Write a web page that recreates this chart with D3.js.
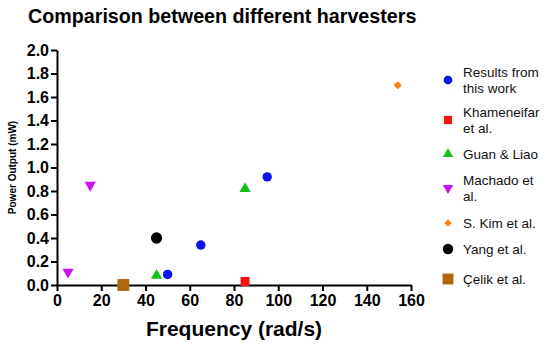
<!DOCTYPE html>
<html>
<head>
<meta charset="utf-8">
<script src="https://cdn.jsdelivr.net/npm/d3@7.9.0/dist/d3.min.js"></script>
<style>
  body { margin: 0; background: #fff; }
  text { font-family: "Liberation Sans", Arial, sans-serif; }
</style>
</head>
<body>
<div id="chart"></div>
<script>
// series
const series = [
  { name: ["Results from", "this work"], shape: "circle", color: "#0a12f0", size: 70,
    points: [[50, 0.09], [65, 0.34], [95, 0.92]] },
  { name: ["Khameneifar", "et al."], shape: "square", color: "#f51212", size: 81,
    points: [[85, 0.03]] },
  { name: ["Guan & Liao"], shape: "triangle", color: "#12c21a", size: 55,
    points: [[45, 0.08], [85, 0.82]] },
  { name: ["Machado et", "al."], shape: "triangleDown", color: "#cc12f0", size: 55,
    points: [[5, 0.11], [15, 0.85]] },
  { name: ["S. Kim et al."], shape: "diamond", color: "#ff7f12", size: 32,
    points: [[154, 1.7]] },
  { name: ["Yang et al."], shape: "circle", color: "#000000", size: 100,
    points: [[45, 0.4]] },
  { name: ["Çelik et al."], shape: "square", color: "#b0650f", size: 140,
    points: [[30, 0.0]] }
];
const xTicks = [0, 20, 40, 60, 80, 100, 120, 140, 160];
const yTicks = [0, 0.2, 0.4, 0.6, 0.8, 1.0, 1.2, 1.4, 1.6, 1.8, 2.0];
const legendY = [80, 120, 154, 188, 223, 249, 279];

const width = 550;
const height = 350;
const margin = { top: 50, right: 139, bottom: 65, left: 57 };

const svg = d3.select("#chart").append("svg")
  .attr("width", width)
  .attr("height", height);

const xScale = d3.scaleLinear().domain([0, 160]).range([margin.left, width - margin.right]);
const yScale = d3.scaleLinear().domain([0, 2]).range([height - margin.bottom, margin.top]);

function symbolFor(shape, size) {
  if (shape === "triangleDown") {
    return d3.symbol().type(d3.symbolTriangle).size(size)();
  }
  const types = {
    circle: d3.symbolCircle,
    square: d3.symbolSquare,
    triangle: d3.symbolTriangle,
    diamond: d3.symbolSquare
  };
  return d3.symbol().type(types[shape]).size(size)();
}

function rotation(shape) {
  if (shape === "triangleDown") return " rotate(180)";
  if (shape === "diamond") return " rotate(45)";
  return "";
}

// title
svg.append("text")
  .attr("x", 28)
  .attr("y", 23)
  .style("font-size", "19.7px")
  .style("font-weight", "bold")
  .text("Comparison between different harvesters");

// axes
const xAxis = svg.append("g")
  .attr("transform", `translate(0, ${yScale(0)})`)
  .call(d3.axisBottom(xScale).tickValues(xTicks).tickSize(6).tickPadding(4).tickSizeOuter(0));

const yAxis = svg.append("g")
  .attr("transform", `translate(${margin.left}, 0)`)
  .call(d3.axisLeft(yScale).tickValues(yTicks).tickFormat(d3.format(".1f")).tickSize(6).tickPadding(2).tickSizeOuter(0));

[xAxis, yAxis].forEach(ax => {
  ax.select(".domain").attr("stroke", "#000").attr("stroke-width", 2);
  ax.selectAll(".tick line").attr("stroke", "#000").attr("stroke-width", 2);
  ax.selectAll(".tick text")
    .attr("fill", "#000")
    .style("font-size", "16px")
    .style("font-weight", "bold")
    .style("font-family", "'Liberation Sans', Arial, sans-serif");
});

// axis labels
svg.append("text")
  .attr("x", xScale(80))
  .attr("y", 336)
  .attr("text-anchor", "middle")
  .style("font-size", "21px")
  .style("font-weight", "bold")
  .text("Frequency (rad/s)");

svg.append("text")
  .attr("transform", `translate(16, ${yScale(1)}) rotate(-90)`)
  .attr("text-anchor", "middle")
  .style("font-size", "10px")
  .style("font-weight", "bold")
  .text("Power Output (mW)");

// points
series.forEach(s => {
  svg.append("g")
    .selectAll("path")
    .data(s.points)
    .join("path")
    .attr("d", symbolFor(s.shape, s.size))
    .attr("transform", d => `translate(${xScale(d[0])}, ${yScale(d[1])})${rotation(s.shape)}`)
    .attr("fill", s.color);
});

// legend
const legend = svg.append("g");
series.forEach((s, i) => {
  const y = legendY[i];
  legend.append("path")
    .attr("d", symbolFor(s.shape, s.size * 0.85))
    .attr("transform", `translate(448, ${y})${rotation(s.shape)}`)
    .attr("fill", s.color);
  const t = legend.append("text")
    .attr("x", 463)
    .attr("y", s.name.length > 1 ? y - 8 + 5 : y + 5)
    .attr("fill", "#111")
    .style("font-size", "13.5px");
  s.name.forEach((line, j) => {
    t.append("tspan").attr("x", 463).attr("dy", j === 0 ? 0 : 16).text(line);
  });
});
</script>
</body>
</html>
